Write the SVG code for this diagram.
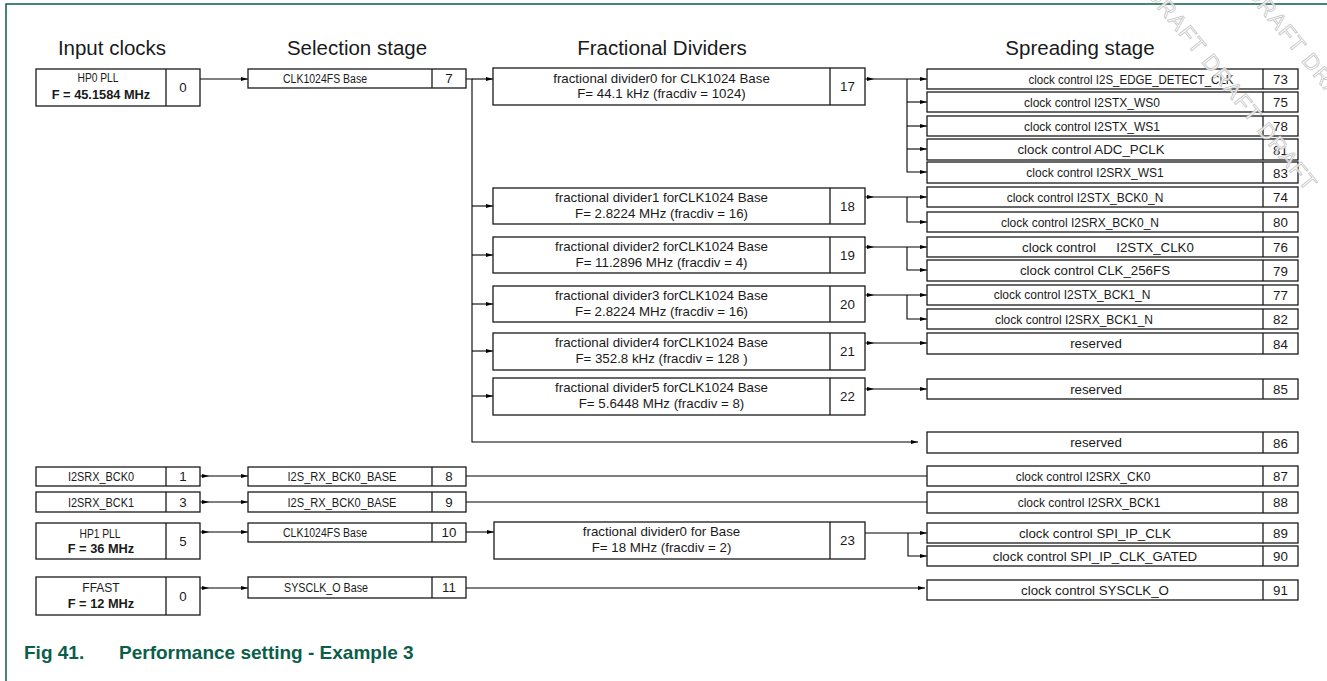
<svg xmlns="http://www.w3.org/2000/svg" width="1327" height="681" viewBox="0 0 1327 681">
<style>
.bx{fill:#fff;stroke:#1a1a1a;stroke-width:1.3}
.dv{stroke:#1a1a1a;stroke-width:1.3}
text{font-family:"Liberation Sans",Arial,sans-serif;fill:#1a1a1a;text-anchor:middle}
.m{font-size:13.3px}
.n{font-size:12px}
.b{font-size:12.8px;font-weight:bold}
.h{font-size:20.5px}
.cap{font-size:19px;font-weight:bold;fill:#0b5e4a;text-anchor:start}
.wm{font-size:22px;letter-spacing:1.5px;fill:#fff;fill-opacity:0.85;stroke:#bdbdbd;stroke-width:0.7;text-anchor:start}
#connectors path{fill:none;stroke:#000;stroke-width:1.1}
.e{marker-end:url(#ah)}
.s{marker-start:url(#as)}
</style>
<defs>
<marker id="ah" markerUnits="userSpaceOnUse" markerWidth="7" markerHeight="4" refX="7" refY="2" orient="auto"><path d="M0,0 L7,2 L0,4 z" fill="#000"/></marker>
<marker id="as" markerUnits="userSpaceOnUse" markerWidth="7" markerHeight="4" refX="-2" refY="2" orient="0"><path d="M0,0 L7,2 L0,4 z" fill="#000"/></marker>
</defs>
<rect width="1327" height="681" fill="#fff"/>
<g id="frame" stroke="#0b5e4a" stroke-width="1.5" fill="none"><path d="M6,681 V4 H1327"/></g>

<g id="headings">
<text class="h" x="112" y="55">Input clocks</text>
<text class="h" x="357" y="55">Selection stage</text>
<text class="h" x="662" y="55">Fractional Dividers</text>
<text class="h" x="1080" y="55">Spreading stage</text>
</g>

<g id="connectors">
<path d="M200,79 H248" class="e"/>
<path d="M466,79 H472 V442 H918" class="e"/>
<path d="M472,79 H493" class="e"/>
<path d="M472,206 H493" class="e"/>
<path d="M472,255 H493" class="e"/>
<path d="M472,304 H493" class="e"/>
<path d="M472,351 H493" class="e"/>
<path d="M472,396 H493" class="e"/>
<path d="M865,79 H927" class="e s"/>
<path d="M907,79 V172 H927" class="e"/>
<path d="M907,102 H927" class="e"/>
<path d="M907,126 H927" class="e"/>
<path d="M907,149 H927" class="e"/>
<path d="M865,197 H927" class="e s"/>
<path d="M907,197 V222 H927" class="e"/>
<path d="M865,247 H927" class="e s"/>
<path d="M907,247 V270 H927" class="e"/>
<path d="M865,295 H927" class="e s"/>
<path d="M907,295 V319 H927" class="e"/>
<path d="M865,343 H927" class="e s"/>
<path d="M865,389 H927" class="e s"/>
<path d="M200,476 H248" class="e s"/>
<path d="M466,476 H927"/>
<path d="M200,502 H248" class="e s"/>
<path d="M466,502 H927"/>
<path d="M200,532 H248" class="e s"/>
<path d="M466,532 H494" class="e"/>
<path d="M865,533 H927" class="e"/>
<path d="M908,533 V556 H927" class="e"/>
<path d="M200,588 H248" class="e s"/>
<path d="M466,588 H925" class="e"/>
</g>

<!-- Input clocks -->
<g id="in_hp0"><rect class="bx" x="36" y="69" width="164" height="37"/><line class="dv" x1="166" y1="69" x2="166" y2="106"/>
<text class="n" x="98" y="82" textLength="41" lengthAdjust="spacingAndGlyphs">HP0 PLL</text><text class="b" x="101" y="99">F = 45.1584 MHz</text><text class="m" x="183" y="92">0</text></g>
<g id="in_i2srx0"><rect class="bx" x="36" y="467" width="164" height="19"/><line class="dv" x1="166" y1="467" x2="166" y2="486"/>
<text class="n" x="101" y="481" textLength="66" lengthAdjust="spacingAndGlyphs">I2SRX_BCK0</text><text class="m" x="183" y="481">1</text></g>
<g id="in_i2srx1"><rect class="bx" x="36" y="492" width="164" height="20"/><line class="dv" x1="166" y1="492" x2="166" y2="512"/>
<text class="n" x="101" y="507" textLength="66" lengthAdjust="spacingAndGlyphs">I2SRX_BCK1</text><text class="m" x="183" y="507">3</text></g>
<g id="in_hp1"><rect class="bx" x="36" y="523" width="164" height="36"/><line class="dv" x1="166" y1="523" x2="166" y2="559"/>
<text class="n" x="100" y="538" textLength="41" lengthAdjust="spacingAndGlyphs">HP1 PLL</text><text class="b" x="101" y="553">F = 36 MHz</text><text class="m" x="183" y="546">5</text></g>
<g id="in_ffast"><rect class="bx" x="36" y="577" width="164" height="38"/><line class="dv" x1="166" y1="577" x2="166" y2="615"/>
<text class="n" x="101" y="592">FFAST</text><text class="b" x="101" y="608">F = 12 MHz</text><text class="m" x="183" y="601">0</text></g>

<!-- Selection stage -->
<g id="sel7"><rect class="bx" x="248" y="69" width="218" height="19"/><line class="dv" x1="432" y1="69" x2="432" y2="88"/>
<text class="n" x="325" y="83" textLength="84" lengthAdjust="spacingAndGlyphs">CLK1024FS Base</text><text class="m" x="449" y="83">7</text></g>
<g id="sel8"><rect class="bx" x="248" y="467" width="218" height="19"/><line class="dv" x1="432" y1="467" x2="432" y2="486"/>
<text class="n" x="342" y="481" textLength="109" lengthAdjust="spacingAndGlyphs">I2S_RX_BCK0_BASE</text><text class="m" x="449" y="481">8</text></g>
<g id="sel9"><rect class="bx" x="248" y="492" width="218" height="20"/><line class="dv" x1="432" y1="492" x2="432" y2="512"/>
<text class="n" x="342" y="507" textLength="109" lengthAdjust="spacingAndGlyphs">I2S_RX_BCK0_BASE</text><text class="m" x="449" y="507">9</text></g>
<g id="sel10"><rect class="bx" x="248" y="523" width="218" height="19"/><line class="dv" x1="432" y1="523" x2="432" y2="542"/>
<text class="n" x="325" y="537" textLength="84" lengthAdjust="spacingAndGlyphs">CLK1024FS Base</text><text class="m" x="449" y="537">10</text></g>
<g id="sel11"><rect class="bx" x="248" y="577" width="218" height="21"/><line class="dv" x1="432" y1="577" x2="432" y2="598"/>
<text class="n" x="326" y="592" textLength="84" lengthAdjust="spacingAndGlyphs">SYSCLK_O Base</text><text class="m" x="449" y="592">11</text></g>

<!-- Fractional dividers -->
<g id="frac17"><rect class="bx" x="493" y="68" width="372" height="37"/><line class="dv" x1="830" y1="68" x2="830" y2="105"/>
<text class="m" x="661.5" y="83">fractional divider0 for CLK1024 Base</text><text class="m" x="661.5" y="98">F= 44.1 kHz (fracdiv = 1024)</text><text class="m" x="847.5" y="91">17</text></g>
<g id="frac18"><rect class="bx" x="493" y="188" width="372" height="36"/><line class="dv" x1="830" y1="188" x2="830" y2="224"/>
<text class="m" x="661.5" y="202">fractional divider1 forCLK1024 Base</text><text class="m" x="661.5" y="218">F= 2.8224 MHz (fracdiv = 16)</text><text class="m" x="847.5" y="211">18</text></g>
<g id="frac19"><rect class="bx" x="493" y="237" width="372" height="36"/><line class="dv" x1="830" y1="237" x2="830" y2="273"/>
<text class="m" x="661.5" y="251">fractional divider2 forCLK1024 Base</text><text class="m" x="661.5" y="267">F= 11.2896 MHz (fracdiv = 4)</text><text class="m" x="847.5" y="260">19</text></g>
<g id="frac20"><rect class="bx" x="493" y="286" width="372" height="36"/><line class="dv" x1="830" y1="286" x2="830" y2="322"/>
<text class="m" x="661.5" y="300">fractional divider3 forCLK1024 Base</text><text class="m" x="661.5" y="316">F= 2.8224 MHz (fracdiv = 16)</text><text class="m" x="847.5" y="309">20</text></g>
<g id="frac21"><rect class="bx" x="493" y="333" width="372" height="37"/><line class="dv" x1="830" y1="333" x2="830" y2="370"/>
<text class="m" x="661.5" y="347">fractional divider4 forCLK1024 Base</text><text class="m" x="661.5" y="363">F= 352.8 kHz (fracdiv = 128 )</text><text class="m" x="847.5" y="356">21</text></g>
<g id="frac22"><rect class="bx" x="493" y="378" width="372" height="37"/><line class="dv" x1="830" y1="378" x2="830" y2="415"/>
<text class="m" x="661.5" y="392">fractional divider5 forCLK1024 Base</text><text class="m" x="661.5" y="408">F= 5.6448 MHz (fracdiv = 8)</text><text class="m" x="847.5" y="401">22</text></g>
<g id="frac23"><rect class="bx" x="494" y="522" width="371" height="37"/><line class="dv" x1="830" y1="522" x2="830" y2="559"/>
<text class="m" x="661.5" y="536">fractional divider0 for Base</text><text class="m" x="661.5" y="552">F= 18 MHz (fracdiv = 2)</text><text class="m" x="847.5" y="545">23</text></g>

<!-- Spreading stage -->
<g id="sp73"><rect class="bx" x="927" y="69" width="371" height="20"/><line class="dv" x1="1263" y1="69" x2="1263" y2="89"/>
<text class="n" x="1131" y="83.5" textLength="205" lengthAdjust="spacingAndGlyphs">clock control I2S_EDGE_DETECT_CLK</text><text class="m" x="1280.5" y="84">73</text></g>
<g id="sp75"><rect class="bx" x="927" y="92" width="371" height="20"/><line class="dv" x1="1263" y1="92" x2="1263" y2="112"/>
<text class="n" x="1092" y="106.5">clock control I2STX_WS0</text><text class="m" x="1280.5" y="107">75</text></g>
<g id="sp78"><rect class="bx" x="927" y="116" width="371" height="20"/><line class="dv" x1="1263" y1="116" x2="1263" y2="136"/>
<text class="n" x="1092" y="130.5">clock control I2STX_WS1</text><text class="m" x="1280.5" y="131">78</text></g>
<g id="sp81"><rect class="bx" x="927" y="139" width="371" height="21"/><line class="dv" x1="1263" y1="139" x2="1263" y2="160"/>
<text class="m" x="1091" y="154">clock control ADC_PCLK</text><text class="m" x="1280.5" y="154.5">81</text></g>
<g id="sp83"><rect class="bx" x="927" y="162" width="371" height="21"/><line class="dv" x1="1263" y1="162" x2="1263" y2="183"/>
<text class="n" x="1095" y="177">clock control I2SRX_WS1</text><text class="m" x="1280.5" y="177.5">83</text></g>
<g id="sp74"><rect class="bx" x="927" y="187" width="371" height="20"/><line class="dv" x1="1263" y1="187" x2="1263" y2="207"/>
<text class="n" x="1085" y="201.5">clock control I2STX_BCK0_N</text><text class="m" x="1280.5" y="202">74</text></g>
<g id="sp80"><rect class="bx" x="927" y="212" width="371" height="20"/><line class="dv" x1="1263" y1="212" x2="1263" y2="232"/>
<text class="n" x="1080" y="226.5">clock control I2SRX_BCK0_N</text><text class="m" x="1280.5" y="227">80</text></g>
<g id="sp76"><rect class="bx" x="927" y="237" width="371" height="20"/><line class="dv" x1="1263" y1="237" x2="1263" y2="257"/>
<text class="m" y="251.5"><tspan x="1059">clock control</tspan><tspan x="1155">I2STX_CLK0</tspan></text><text class="m" x="1280.5" y="252">76</text></g>
<g id="sp79"><rect class="bx" x="927" y="260" width="371" height="21"/><line class="dv" x1="1263" y1="260" x2="1263" y2="281"/>
<text class="m" x="1095" y="275">clock control CLK_256FS</text><text class="m" x="1280.5" y="275.5">79</text></g>
<g id="sp77"><rect class="bx" x="927" y="285" width="371" height="20"/><line class="dv" x1="1263" y1="285" x2="1263" y2="305"/>
<text class="n" x="1072" y="299">clock control I2STX_BCK1_N</text><text class="m" x="1280.5" y="300">77</text></g>
<g id="sp82"><rect class="bx" x="927" y="309" width="371" height="20"/><line class="dv" x1="1263" y1="309" x2="1263" y2="329"/>
<text class="n" x="1074" y="323.5">clock control I2SRX_BCK1_N</text><text class="m" x="1280.5" y="324">82</text></g>
<g id="sp84"><rect class="bx" x="927" y="333" width="371" height="21"/><line class="dv" x1="1263" y1="333" x2="1263" y2="354"/>
<text class="m" x="1096" y="348">reserved</text><text class="m" x="1280.5" y="348.5">84</text></g>
<g id="sp85"><rect class="bx" x="927" y="379" width="371" height="20"/><line class="dv" x1="1263" y1="379" x2="1263" y2="399"/>
<text class="m" x="1096" y="393.5">reserved</text><text class="m" x="1280.5" y="394">85</text></g>
<g id="sp86"><rect class="bx" x="927" y="432" width="371" height="21"/><line class="dv" x1="1263" y1="432" x2="1263" y2="453"/>
<text class="m" x="1096" y="447">reserved</text><text class="m" x="1280.5" y="447.5">86</text></g>
<g id="sp87"><rect class="bx" x="927" y="466" width="371" height="20"/><line class="dv" x1="1263" y1="466" x2="1263" y2="486"/>
<text class="n" x="1083" y="480.5">clock control I2SRX_CK0</text><text class="m" x="1280.5" y="481">87</text></g>
<g id="sp88"><rect class="bx" x="927" y="492" width="371" height="21"/><line class="dv" x1="1263" y1="492" x2="1263" y2="513"/>
<text class="n" x="1089" y="507">clock control I2SRX_BCK1</text><text class="m" x="1280.5" y="507">88</text></g>
<g id="sp89"><rect class="bx" x="927" y="523" width="371" height="20"/><line class="dv" x1="1263" y1="523" x2="1263" y2="543"/>
<text class="m" x="1095" y="537.5">clock control SPI_IP_CLK</text><text class="m" x="1280.5" y="538">89</text></g>
<g id="sp90"><rect class="bx" x="927" y="546" width="371" height="20"/><line class="dv" x1="1263" y1="546" x2="1263" y2="566"/>
<text class="m" x="1095" y="560.5">clock control SPI_IP_CLK_GATED</text><text class="m" x="1280.5" y="561">90</text></g>
<g id="sp91"><rect class="bx" x="927" y="580" width="371" height="20"/><line class="dv" x1="1263" y1="580" x2="1263" y2="600"/>
<text class="m" x="1095" y="594.5">clock control SYSCLK_O</text><text class="m" x="1280.5" y="595">91</text></g>

<g id="caption"><text class="cap" x="24" y="659">Fig 41.<tspan x="119">Performance setting - Example 3</tspan></text></g>

<g id="watermark">
<text class="wm" transform="translate(1090,-75) rotate(51)">DRAFT DRAFT DRAFT DRAFT</text>
<text class="wm" transform="translate(1190,-76) rotate(51)">DRAFT DRAFT DRAFT</text>
</g>
</svg>
